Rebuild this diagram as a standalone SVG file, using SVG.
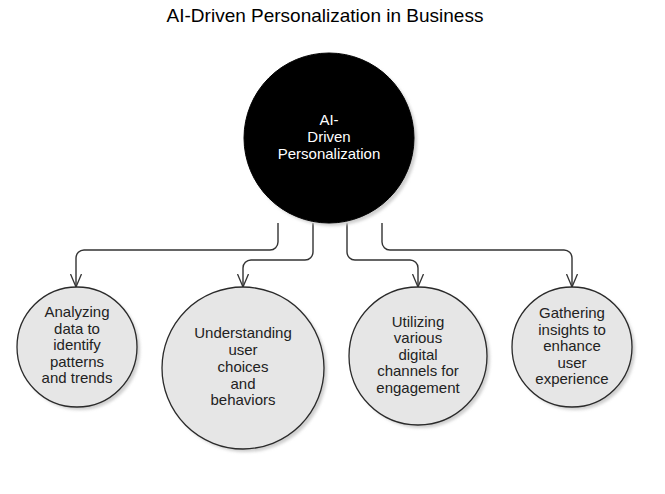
<svg xmlns="http://www.w3.org/2000/svg" width="665" height="494" viewBox="0 0 665 494">
  <style>
    .title { font-family: "Liberation Sans", Arial, sans-serif; font-size: 19px; fill: #000; text-anchor: middle; }
    .lbl { font-family: "Liberation Sans", Arial, sans-serif; font-size: 15px; fill: #222; text-anchor: middle; }
    .lblw { font-family: "Liberation Sans", Arial, sans-serif; font-size: 15px; fill: #fff; text-anchor: middle; }
    .node { fill: #e6e6e6; stroke: #2a2a2a; stroke-width: 1.3; }
    .main { fill: #000; stroke: #000; stroke-width: 1; }
    .shadow { fill: #cfcfcf; filter: url(#blur); }
    .conn { fill: none; stroke: #333; stroke-width: 1.4; marker-end: url(#arrow); }
  </style>
  <defs>
    <filter id="blur" x="-20%" y="-20%" width="140%" height="140%">
      <feGaussianBlur stdDeviation="1.5"/>
    </filter>
    <marker id="arrow" viewBox="0 0 14 12" refX="13" refY="6" markerWidth="14" markerHeight="12" markerUnits="userSpaceOnUse" orient="auto">
      <path d="M0,0.5 L13,6 L0,11.5" fill="none" stroke="#333" stroke-width="1.3"/>
    </marker>
  </defs>

  <text class="title" x="325" y="22">AI-Driven Personalization in Business</text>

  <g id="connectors">
    <path class="conn" d="M278,223 V242 A8,8 0 0 1 270,250 H84 A8,8 0 0 0 76,258 V287"/>
    <path class="conn" d="M313,223 V252 A8,8 0 0 1 305,260 H251 A8,8 0 0 0 243,268 V287"/>
    <path class="conn" d="M347,223 V252 A8,8 0 0 0 355,260 H410 A8,8 0 0 1 418,268 V287"/>
    <path class="conn" d="M382,223 V242 A8,8 0 0 0 390,250 H564 A8,8 0 0 1 572,258 V287"/>
  </g>

  <g id="main">
    <circle class="shadow" cx="332" cy="141" r="85"/>
    <circle class="main" cx="329" cy="138" r="85"/>
    <text class="lblw" x="329" y="125">AI-</text>
    <text class="lblw" x="329" y="142">Driven</text>
    <text class="lblw" x="329" y="159">Personalization</text>
  </g>

  <g id="n1">
    <circle class="shadow" cx="80" cy="350" r="60"/>
    <circle class="node" cx="77" cy="347" r="60"/>
    <text class="lbl" x="77" y="317">Analyzing</text>
    <text class="lbl" x="77" y="333.5">data to</text>
    <text class="lbl" x="77" y="350">identify</text>
    <text class="lbl" x="77" y="366.5">patterns</text>
    <text class="lbl" x="77" y="383">and trends</text>
  </g>

  <g id="n2">
    <circle class="shadow" cx="246" cy="371" r="81"/>
    <circle class="node" cx="243" cy="368" r="81"/>
    <text class="lbl" x="243" y="338">Understanding</text>
    <text class="lbl" x="243" y="355">user</text>
    <text class="lbl" x="243" y="372">choices</text>
    <text class="lbl" x="243" y="388.5">and</text>
    <text class="lbl" x="243" y="405">behaviors</text>
  </g>

  <g id="n3">
    <circle class="shadow" cx="421" cy="359" r="69"/>
    <circle class="node" cx="418" cy="356" r="69"/>
    <text class="lbl" x="418" y="327">Utilizing</text>
    <text class="lbl" x="418" y="343">various</text>
    <text class="lbl" x="418" y="359.5">digital</text>
    <text class="lbl" x="418" y="376">channels for</text>
    <text class="lbl" x="418" y="392.5">engagement</text>
  </g>

  <g id="n4">
    <circle class="shadow" cx="575" cy="350" r="60"/>
    <circle class="node" cx="572" cy="347" r="60"/>
    <text class="lbl" x="572" y="318">Gathering</text>
    <text class="lbl" x="572" y="334.5">insights to</text>
    <text class="lbl" x="572" y="351">enhance</text>
    <text class="lbl" x="572" y="367.5">user</text>
    <text class="lbl" x="572" y="384">experience</text>
  </g>
</svg>
